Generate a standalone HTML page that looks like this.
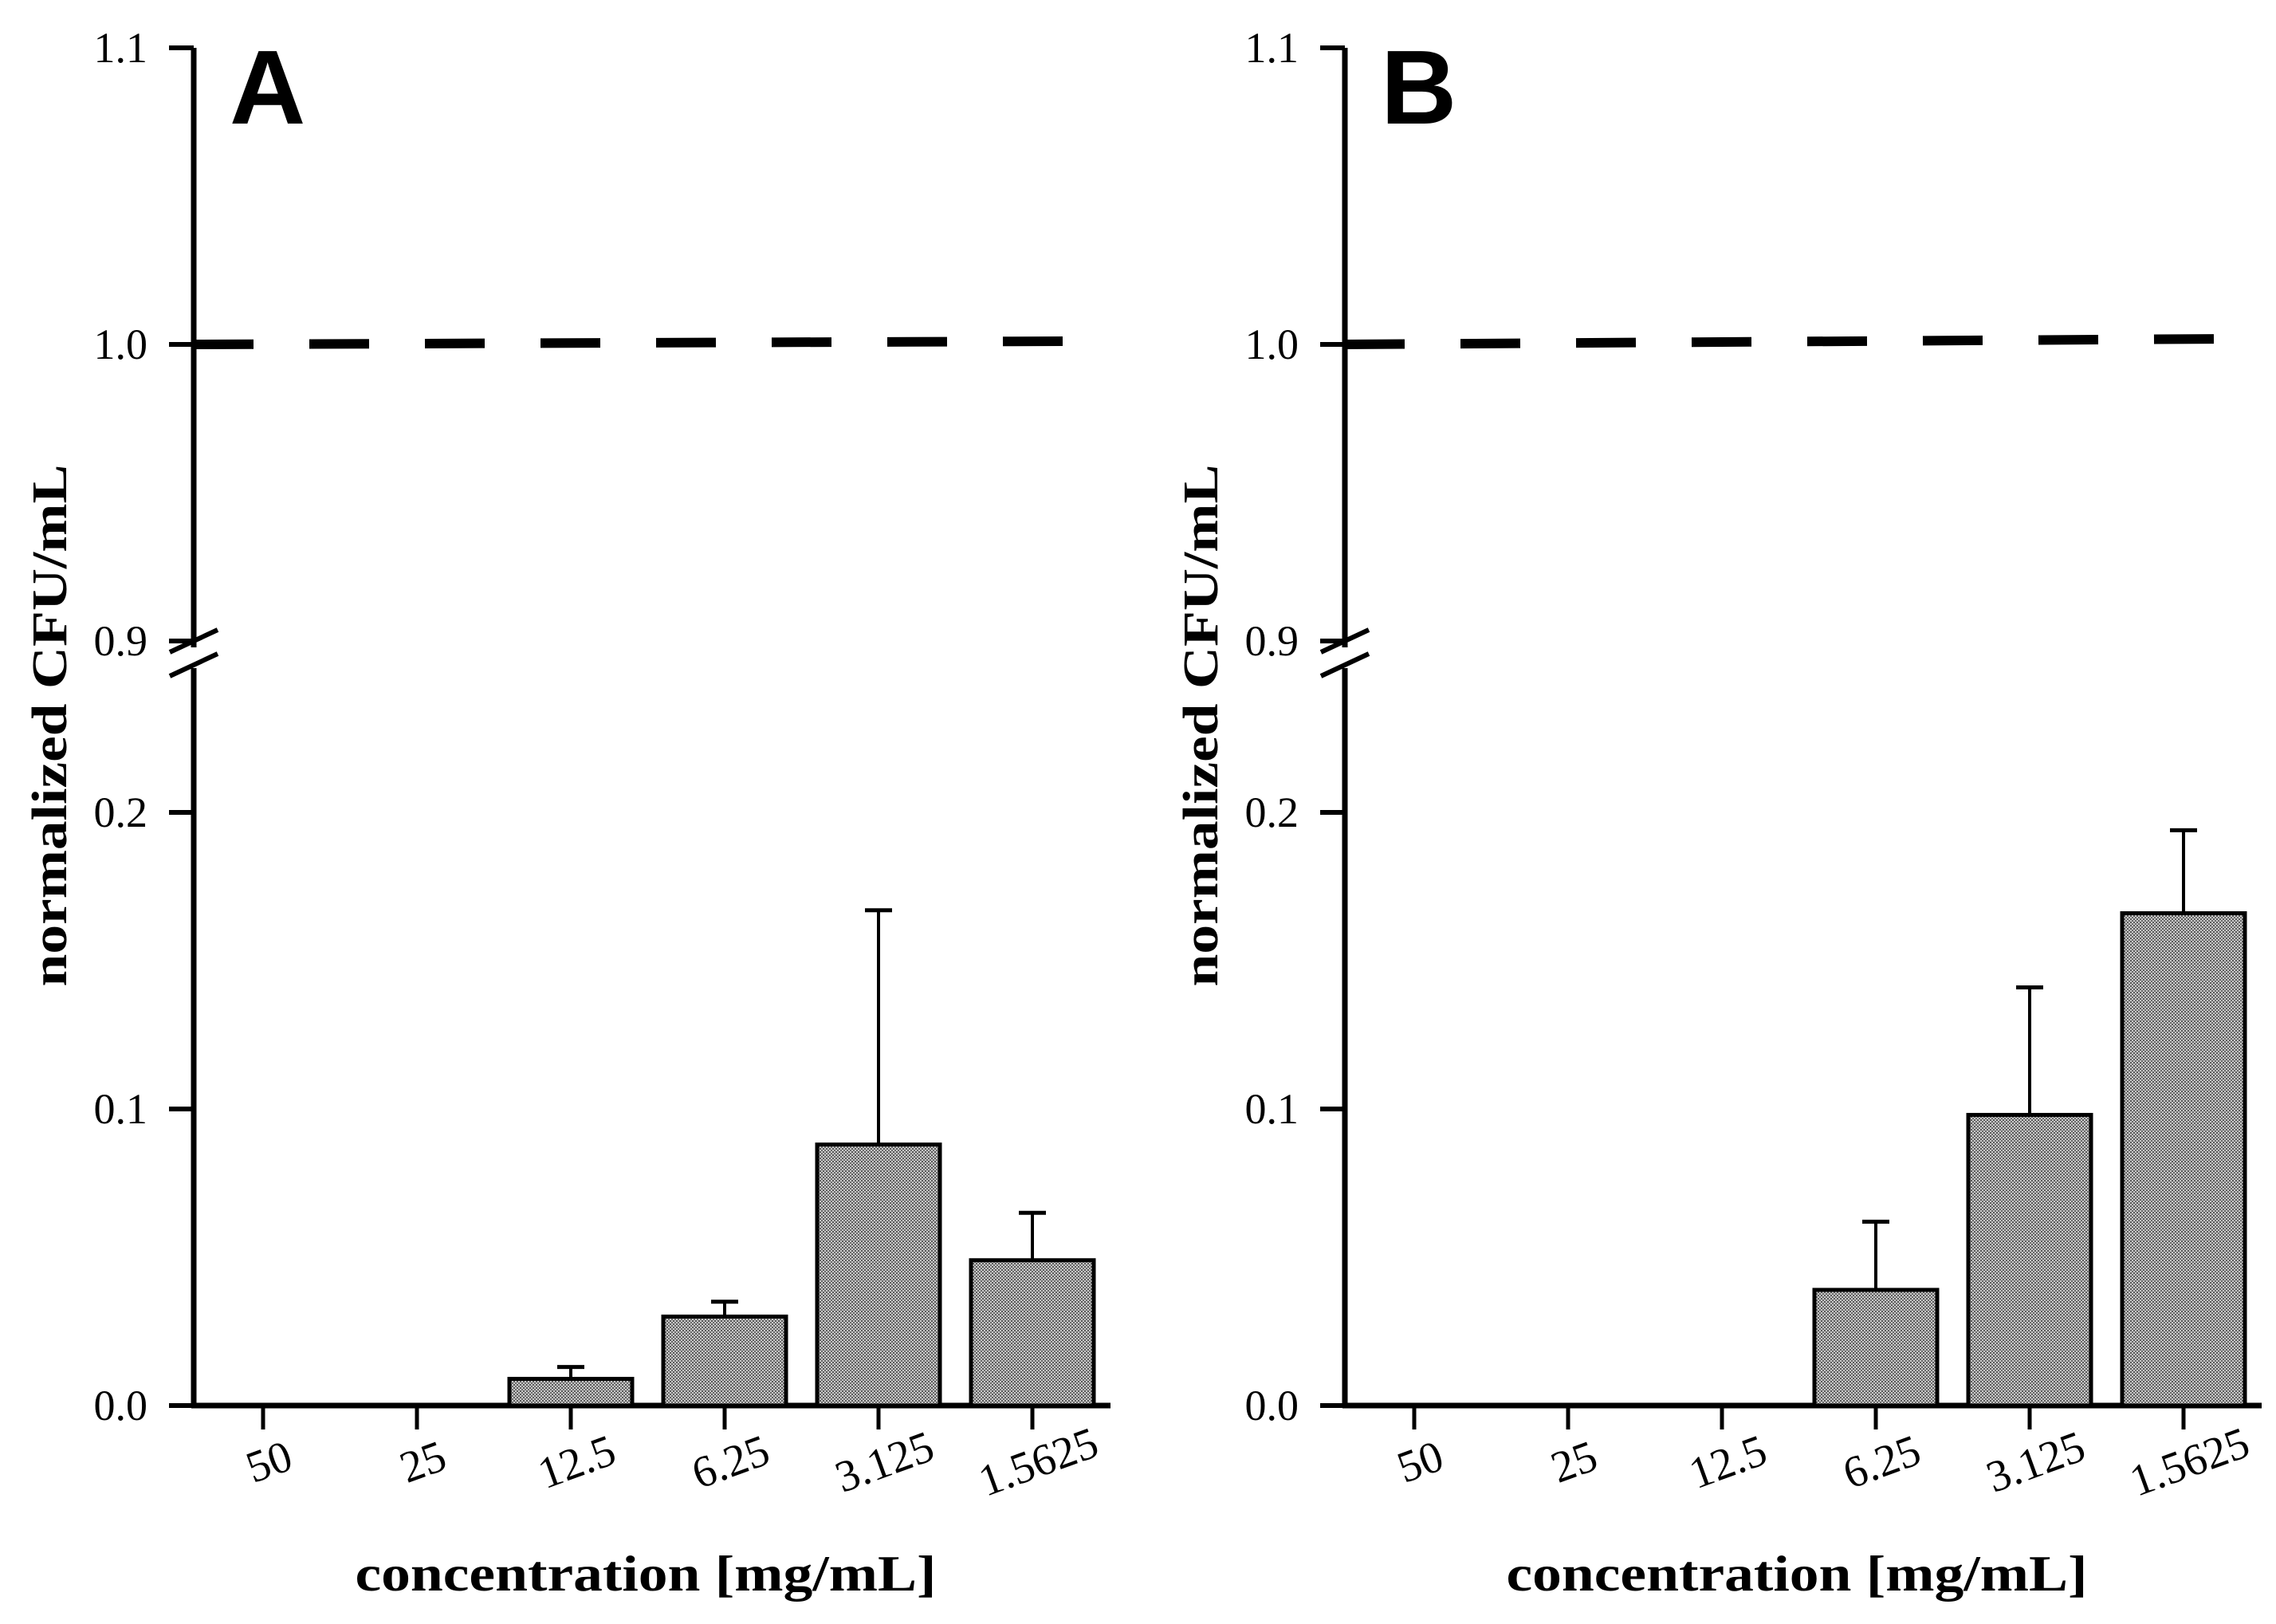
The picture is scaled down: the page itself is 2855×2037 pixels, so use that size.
<!DOCTYPE html>
<html><head><meta charset="utf-8">
<style>html,body{margin:0;padding:0;background:#fff}svg{display:block}</style>
</head><body>
<svg id="chart" xmlns="http://www.w3.org/2000/svg" width="2855" height="2037" viewBox="0 0 2855 2037">
<defs>
<pattern id="stip" width="4" height="4" patternUnits="userSpaceOnUse">
<rect width="4" height="4" fill="#c8c8c8"/><rect width="2" height="2" fill="#5a5a5a"/><rect x="2" y="2" width="2" height="2" fill="#6a6a6a"/>
</pattern>
</defs>
</svg>
<script>
const categories = ["50","25","12.5","6.25","3.125","1.5625"];
const valuesA = [0, 0, 0.009, 0.030, 0.088, 0.049];
const errorsA = [null, null, 0.013, 0.035, 0.167, 0.065];
const valuesB = [0, 0, 0, 0.039, 0.098, 0.166];
const errorsB = [null, null, null, 0.062, 0.141, 0.194];
const lowerTicks = [0.0, 0.1, 0.2];
const upperTicks = [0.9, 1.0, 1.1];
const lowerTickLabels = ["0.0","0.1","0.2"];
const upperTickLabels = ["0.9","1.0","1.1"];
const referenceLevel = [1.0, 1.0];
const panelLabels = ["A","B"];

const NS = "http://www.w3.org/2000/svg";
const svg = document.getElementById("chart");
function el(tag, attrs, parent) {
  const e = document.createElementNS(NS, tag);
  for (const k in attrs) e.setAttribute(k, attrs[k]);
  (parent || svg).appendChild(e);
  return e;
}
function yLower(v) { return 1763 - v * 3720; }
function yUpper(v) { return 432 - (v - 1.0) * 3720; }

function drawPanel(p) {
  const ax = p === 0 ? 243 : 1687;
  const xEnd = ax + 1150;
  const x0 = ax + 87;
  const step = 193;
  const xCat = i => x0 + i * step;
  const vals = p === 0 ? valuesA : valuesB;
  const errs = p === 0 ? errorsA : errorsB;
  const g = el("g", {});
  
  

  let l = el("line", {x1: ax, y1: yUpper(1.1), x2: ax, y2: 812, stroke: "#000", "stroke-width": 7}, g);
  
  
  l = el("line", {x1: ax, y1: 838, x2: ax, y2: yLower(0) + 3, stroke: "#000", "stroke-width": 7}, g);
  
  
  [0, 30].forEach(d => {
    const b = el("line", {x1: ax - 30, y1: 818 + d, x2: ax + 30, y2: 790 + d, stroke: "#000", "stroke-width": 6}, g);
    
    
  });
  const tickSets = [[upperTicks, upperTickLabels, yUpper], [lowerTicks, lowerTickLabels, yLower]];
  tickSets.forEach(([ts, lbs, f]) => {
    ts.forEach((t, i) => {
      const y = f(t);
      const tk = el("line", {x1: ax - 31, y1: y, x2: ax, y2: y, stroke: "#000", "stroke-width": 6}, g);
      
      
      const tx = el("text", {x: ax - 58, y: y + 18, "text-anchor": "end", "font-family": "Liberation Serif, serif", "font-size": 54}, g);
      tx.textContent = lbs[i];
      
      
    });
  });
  l = el("line", {x1: ax - 3, y1: yLower(0), x2: xEnd, y2: yLower(0), stroke: "#000", "stroke-width": 7}, g);
  
  
  categories.forEach((c, i) => {
    const cx = xCat(i);
    if (vals[i] > 0) {
      const top = yLower(vals[i]);
      if (errs[i] !== null) {
        const ey = yLower(errs[i]);
        const e1 = el("line", {x1: cx, y1: top, x2: cx, y2: ey, stroke: "#000", "stroke-width": 4}, g);
        
        
        const e2 = el("line", {x1: cx - 17, y1: ey, x2: cx + 17, y2: ey, stroke: "#000", "stroke-width": 5}, g);
        
        
      }
      const r = el("rect", {x: cx - 77, y: top, width: 154, height: yLower(0) - top, fill: "url(#stip)", stroke: "#000", "stroke-width": 5}, g);
      
      
    }
    const tk = el("line", {x1: cx, y1: yLower(0), x2: cx, y2: yLower(0) + 30, stroke: "#000", "stroke-width": 5}, g);
    
    
    const tx = el("text", {x: cx + 8, y: 1852, "text-anchor": "middle", "font-family": "Liberation Serif, serif", "font-size": 56, transform: "rotate(-20 " + (cx + 8) + " 1835)"}, g);
    tx.textContent = c;
    
    
  });
  const ry0 = yUpper(referenceLevel[p]);
  const d = el("line", {x1: ax, y1: ry0, x2: ax + 1100, y2: ry0 - (p === 0 ? 4 : 7), stroke: "#000", "stroke-width": 12, "stroke-dasharray": "75 70"}, g);
  
  
  const pl = el("text", {x: ax + 45, y: 155, "font-family": "Liberation Sans, sans-serif", "font-weight": "bold", "font-size": 132}, g);
  pl.textContent = panelLabels[p];
  
  
  const yt = el("text", {x: 0, y: 0, "text-anchor": "middle", "font-family": "Liberation Serif, serif", "font-weight": "bold", "font-size": 62, textLength: 655, lengthAdjust: "spacingAndGlyphs", transform: "translate(" + (ax - 160) + " 910) rotate(-90)"}, g);
  yt.textContent = "normalized CFU/mL";
  
  
  const xt = el("text", {x: ax + 567, y: 1995, "text-anchor": "middle", "font-family": "Liberation Serif, serif", "font-weight": "bold", "font-size": 64, textLength: 729, lengthAdjust: "spacingAndGlyphs"}, g);
  xt.textContent = "concentration [mg/mL]";
  
  
}
drawPanel(0);
drawPanel(1);
</script>
</body></html>
